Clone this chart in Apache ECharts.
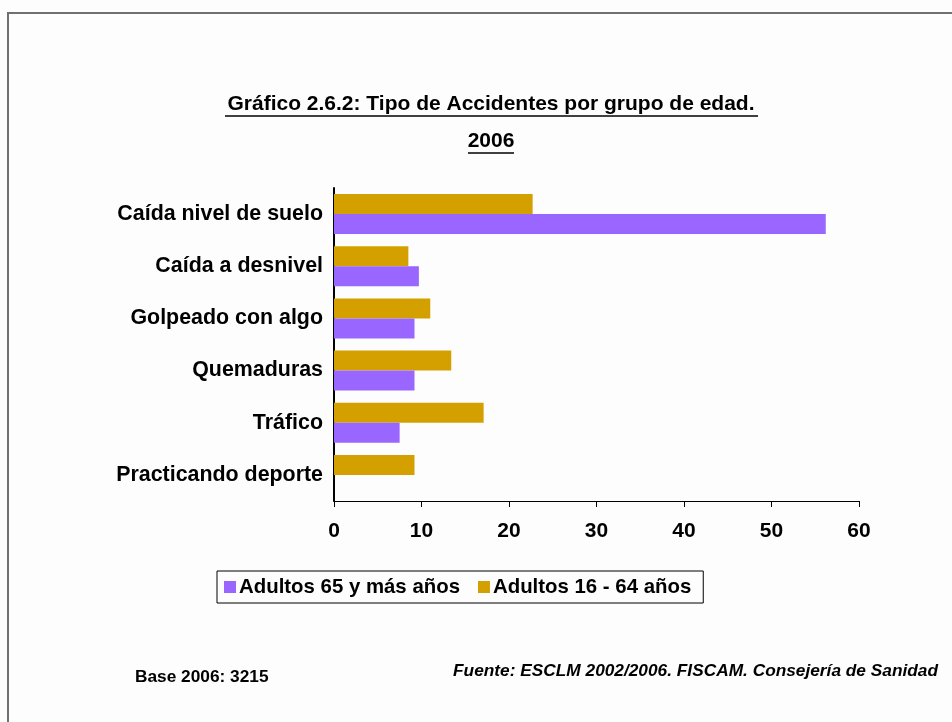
<!DOCTYPE html>
<html>
<head>
<meta charset="utf-8">
<script src="https://cdn.jsdelivr.net/npm/echarts@6/dist/echarts.min.js"></script>
<style>
  html, body { margin: 0; padding: 0; background: #fdfdfd; }
  #chart { width: 952px; height: 722px; }
</style>
</head>
<body>
<div id="chart"></div>
<script>
  // categorías, de arriba abajo
  const categories = ['Caída nivel de suelo', 'Caída a desnivel', 'Golpeado con algo',
                      'Quemaduras', 'Tráfico', 'Practicando deporte'];
  // porcentajes
  const mayores65 = [56.2, 9.7, 9.2, 9.2, 7.5, 0];
  const adultos16_64 = [22.7, 8.5, 11.0, 13.4, 17.1, 9.2];
  const xTicks = [0, 10, 20, 30, 40, 50, 60];

  const font = '"Liberation Sans", Arial, sans-serif';
  const chart = echarts.init(document.getElementById('chart'));

  const option = {
    backgroundColor: '#fdfdfd',
    animation: false,
    grid: { left: 334, right: 93, top: 188, bottom: 221 },
    xAxis: {
      type: 'value',
      min: xTicks[0],
      max: xTicks[xTicks.length - 1],
      interval: 10,
      axisLine: { show: true, lineStyle: { color: '#000', width: 1 } },
      axisTick: { show: true, length: 6, lineStyle: { color: '#000' } },
      splitLine: { show: false },
      axisLabel: { color: '#000', fontFamily: font, fontWeight: 'bold', fontSize: 21, margin: 20 }
    },
    yAxis: {
      type: 'category',
      inverse: true,
      data: categories,
      axisLine: { show: true, lineStyle: { color: '#000', width: 2 } },
      axisTick: { show: false },
      axisLabel: { color: '#000', fontFamily: font, fontWeight: 'bold', fontSize: 21.4, margin: 11 }
    },
    legend: {
      left: 217,
      top: 571,
      padding: [6, 12, 6, 7],
      borderColor: '#000',
      borderWidth: 1,
      itemWidth: 12,
      itemHeight: 12,
      itemGap: 18,
      icon: 'rect',
      textStyle: { color: '#000', fontFamily: font, fontWeight: 'bold', fontSize: 20.4, padding: [0, 0, 0, -2] },
      data: ['Adultos 65 y más años', 'Adultos 16 - 64 años']
    },
    series: [
      {
        name: 'Adultos 16 - 64 años',
        type: 'bar',
        data: adultos16_64,
        barWidth: 20,
        barGap: '0%',
        itemStyle: { color: '#D4A000' }
      },
      {
        name: 'Adultos 65 y más años',
        type: 'bar',
        data: mayores65,
        barWidth: 20,
        barGap: '0%',
        itemStyle: { color: '#9966FF' }
      }
    ],
    graphic: [
      {
        type: 'rect', z: -1, silent: true,
        shape: { x: 8, y: 13, width: 960, height: 720 },
        style: { fill: 'none', stroke: '#707070', lineWidth: 2 }
      },
      {
        type: 'text', x: 491, y: 94,
        style: { text: 'Gráfico 2.6.2: Tipo de Accidentes por grupo de edad.', fill: '#000',
                 font: 'bold 21px ' + font, textAlign: 'center' }
      },
      {
        type: 'line', shape: { x1: 225, y1: 116, x2: 758, y2: 116 },
        style: { stroke: '#000', lineWidth: 1.5 }
      },
      {
        type: 'text', x: 491, y: 131,
        style: { text: '2006', fill: '#000', font: 'bold 21px ' + font, textAlign: 'center' }
      },
      {
        type: 'line', shape: { x1: 468, y1: 153, x2: 514, y2: 153 },
        style: { stroke: '#000', lineWidth: 1.5 }
      },
      {
        type: 'text', left: 135, top: 669,
        style: { text: 'Base 2006: 3215', fill: '#000', font: 'bold 17.3px ' + font }
      },
      {
        type: 'text', right: 14, top: 663,
        style: { text: 'Fuente: ESCLM 2002/2006. FISCAM. Consejería de Sanidad', fill: '#000',
                 font: 'italic bold 17.3px ' + font }
      }
    ]
  };

  chart.setOption(option);
</script>
</body>
</html>
